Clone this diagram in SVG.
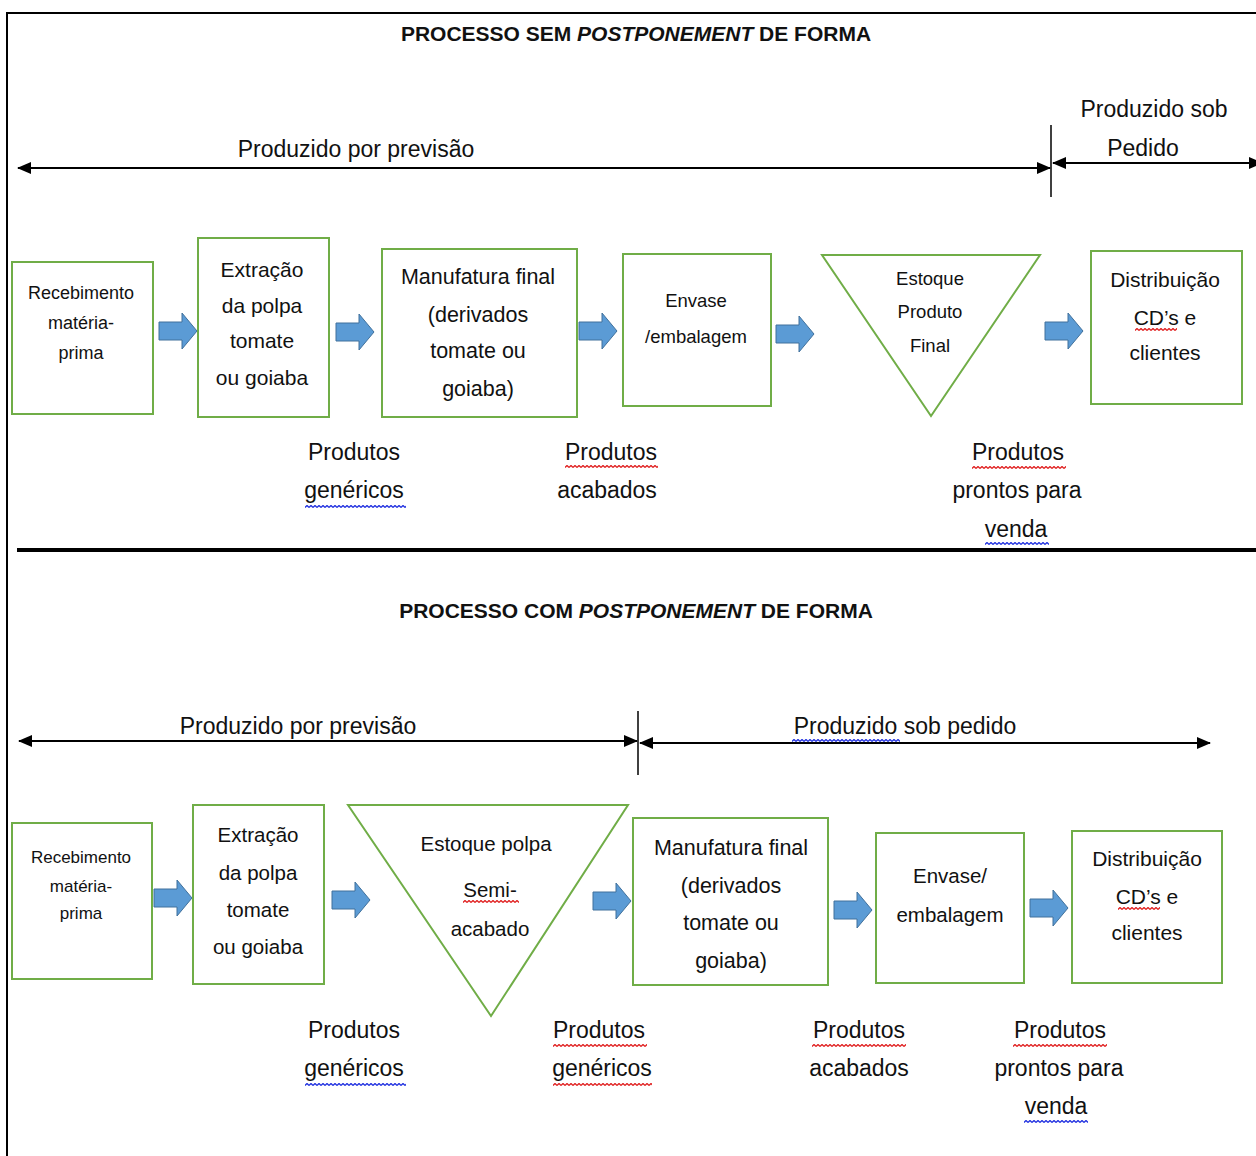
<svg xmlns="http://www.w3.org/2000/svg" width="1256" height="1156" viewBox="0 0 1256 1156">
<style>
text{font-family:"Liberation Sans",Arial,sans-serif;fill:#111;text-anchor:middle}
.title{font-size:21px;font-weight:bold}
.lbl{font-size:23px}
.box{fill:#fff;stroke:#70ad47;stroke-width:2}
.dim{stroke:#000;stroke-width:2;fill:none}
.tick{stroke:#000;stroke-width:1.5}
.frame{stroke:#000;stroke-width:2;fill:none}
</style>
<defs>
<path id="barrow" d="M0,9 H23 V0 L38,18 L23,36 V27 H0 Z" fill="#5b9bd5" stroke="#41719c" stroke-width="1"/>
<marker id="ah" markerUnits="userSpaceOnUse" markerWidth="14" markerHeight="14" refX="13" refY="7" orient="auto-start-reverse">
<path d="M0,1 L14,7 L0,13 Z" fill="#000"/>
</marker>
<pattern id="sqR" patternUnits="userSpaceOnUse" width="4" height="3">
<path d="M0,2.5 L2,0.5 L4,2.5" fill="none" stroke="#e02020" stroke-width="1.3"/>
</pattern>
<pattern id="sqB" patternUnits="userSpaceOnUse" width="4" height="3">
<path d="M0,2.5 L2,0.5 L4,2.5" fill="none" stroke="#2030e0" stroke-width="1.3"/>
</pattern>
</defs>

<!-- frame -->
<path class="frame" d="M7,1156 V13 H1256"/>
<line x1="17" y1="550" x2="1256" y2="550" stroke="#000" stroke-width="4"/>

<!-- titles -->
<text class="title" x="636" y="41">PROCESSO SEM <tspan font-style="italic">POSTPONEMENT</tspan> DE FORMA</text>
<text class="title" x="636" y="618">PROCESSO COM <tspan font-style="italic">POSTPONEMENT</tspan> DE FORMA</text>

<!-- connectors -->
<g id="connectors">
<line class="dim" x1="18" y1="168" x2="1050" y2="168" marker-start="url(#ah)" marker-end="url(#ah)"/>
<line class="tick" x1="1051" y1="125" x2="1051" y2="197"/>
<line class="dim" x1="1053" y1="163" x2="1262" y2="163" marker-start="url(#ah)" marker-end="url(#ah)"/>
<line class="dim" x1="19" y1="741" x2="637" y2="741" marker-start="url(#ah)" marker-end="url(#ah)"/>
<line class="tick" x1="638" y1="711" x2="638" y2="775"/>
<line class="dim" x1="640" y1="743" x2="1210" y2="743" marker-start="url(#ah)" marker-end="url(#ah)"/>
<use href="#barrow" transform="translate(159,313)"/>
<use href="#barrow" transform="translate(336,314)"/>
<use href="#barrow" transform="translate(579,313)"/>
<use href="#barrow" transform="translate(776,316)"/>
<use href="#barrow" transform="translate(1045,313)"/>
<use href="#barrow" transform="translate(154,880)"/>
<use href="#barrow" transform="translate(332,882)"/>
<use href="#barrow" transform="translate(593,883)"/>
<use href="#barrow" transform="translate(834,892)"/>
<use href="#barrow" transform="translate(1030,890)"/>
</g>

<!-- range labels -->
<g id="ranges">
<text class="lbl" x="356" y="157">Produzido por previsão</text>
<text class="lbl" x="1154" y="117">Produzido sob</text>
<text class="lbl" x="1143" y="156">Pedido</text>
<text class="lbl" x="298" y="734">Produzido por previsão</text>
<text class="lbl" x="905" y="734">Produzido sob pedido</text>
<rect x="0" y="0" width="108" height="3" fill="url(#sqB)" transform="translate(792,739)"/>
</g>

<!-- top row nodes -->
<g id="n1">
<rect class="box" x="12" y="262" width="141" height="152"/>
<text x="81" y="299" font-size="18">Recebimento</text>
<text x="81" y="329" font-size="18">matéria-</text>
<text x="81" y="359" font-size="18">prima</text>
</g>
<g id="n2">
<rect class="box" x="198" y="238" width="131" height="179"/>
<text x="262" y="277" font-size="21">Extração</text>
<text x="262" y="313" font-size="21">da polpa</text>
<text x="262" y="348" font-size="21">tomate</text>
<text x="262" y="385" font-size="21">ou goiaba</text>
</g>
<g id="n3">
<rect class="box" x="382" y="249" width="195" height="168"/>
<text x="478" y="284" font-size="21.5">Manufatura final</text>
<text x="478" y="322" font-size="21.5">(derivados</text>
<text x="478" y="358" font-size="21.5">tomate ou</text>
<text x="478" y="396" font-size="21.5">goiaba)</text>
</g>
<g id="n4">
<rect class="box" x="623" y="254" width="148" height="152"/>
<text x="696" y="307" font-size="18.5">Envase</text>
<text x="696" y="343" font-size="18.5">/embalagem</text>
</g>
<g id="n5">
<polygon class="box" points="822,255 1040,255 931,416"/>
<text x="930" y="285" font-size="18.5">Estoque</text>
<text x="930" y="318" font-size="18.5">Produto</text>
<text x="930" y="352" font-size="18.5">Final</text>
</g>
<g id="n6">
<rect class="box" x="1091" y="251" width="151" height="153"/>
<text x="1165" y="287" font-size="21">Distribuição</text>
<text x="1165" y="325" font-size="21">CD’s e</text>
<text x="1165" y="360" font-size="21">clientes</text>
<rect x="0" y="0" width="42" height="3" fill="url(#sqR)" transform="translate(1135,328)"/>
</g>

<!-- top row labels -->
<g id="labels-top">
<text class="lbl" x="354" y="460">Produtos</text>
<text class="lbl" x="354" y="498">genéricos</text>
<rect x="0" y="0" width="101" height="3" fill="url(#sqB)" transform="translate(305,505)"/>
<text class="lbl" x="611" y="460">Produtos</text>
<text class="lbl" x="607" y="498">acabados</text>
<rect x="0" y="0" width="93" height="3" fill="url(#sqR)" transform="translate(565,465)"/>
<text class="lbl" x="1018" y="460">Produtos</text>
<text class="lbl" x="1017" y="498">prontos para</text>
<text class="lbl" x="1016" y="537">venda</text>
<rect x="0" y="0" width="94" height="3" fill="url(#sqR)" transform="translate(972,466)"/>
<rect x="0" y="0" width="64" height="3" fill="url(#sqB)" transform="translate(985,542)"/>
</g>

<!-- bottom row nodes -->
<g id="m1">
<rect class="box" x="12" y="823" width="140" height="156"/>
<text x="81" y="863" font-size="17">Recebimento</text>
<text x="81" y="892" font-size="17">matéria-</text>
<text x="81" y="919" font-size="17">prima</text>
</g>
<g id="m2">
<rect class="box" x="193" y="805" width="131" height="179"/>
<text x="258" y="842" font-size="20.5">Extração</text>
<text x="258" y="880" font-size="20.5">da polpa</text>
<text x="258" y="917" font-size="20.5">tomate</text>
<text x="258" y="954" font-size="20.5">ou goiaba</text>
</g>
<g id="m3">
<polygon class="box" points="348,805 628,805 491,1016"/>
<text x="486" y="851" font-size="20.5">Estoque polpa</text>
<text x="490" y="897" font-size="20.5">Semi-</text>
<text x="490" y="936" font-size="20.5">acabado</text>
<rect x="0" y="0" width="56" height="3" fill="url(#sqR)" transform="translate(463,900)"/>
</g>
<g id="m4">
<rect class="box" x="633" y="818" width="195" height="167"/>
<text x="731" y="855" font-size="21.5">Manufatura final</text>
<text x="731" y="893" font-size="21.5">(derivados</text>
<text x="731" y="930" font-size="21.5">tomate ou</text>
<text x="731" y="968" font-size="21.5">goiaba)</text>
</g>
<g id="m5">
<rect class="box" x="876" y="833" width="148" height="150"/>
<text x="950" y="883" font-size="20.5">Envase/</text>
<text x="950" y="922" font-size="20.5">embalagem</text>
</g>
<g id="m6">
<rect class="box" x="1072" y="831" width="150" height="152"/>
<text x="1147" y="866" font-size="21">Distribuição</text>
<text x="1147" y="904" font-size="21">CD’s e</text>
<text x="1147" y="940" font-size="21">clientes</text>
<rect x="0" y="0" width="42" height="3" fill="url(#sqR)" transform="translate(1118,907)"/>
</g>

<!-- bottom row labels -->
<g id="labels-bottom">
<text class="lbl" x="354" y="1038">Produtos</text>
<text class="lbl" x="354" y="1076">genéricos</text>
<rect x="0" y="0" width="101" height="3" fill="url(#sqB)" transform="translate(305,1083)"/>
<text class="lbl" x="599" y="1038">Produtos</text>
<text class="lbl" x="602" y="1076">genéricos</text>
<rect x="0" y="0" width="94" height="3" fill="url(#sqR)" transform="translate(553,1044)"/>
<rect x="0" y="0" width="99" height="3" fill="url(#sqR)" transform="translate(553,1083)"/>
<text class="lbl" x="859" y="1038">Produtos</text>
<text class="lbl" x="859" y="1076">acabados</text>
<rect x="0" y="0" width="94" height="3" fill="url(#sqR)" transform="translate(812,1044)"/>
<text class="lbl" x="1060" y="1038">Produtos</text>
<text class="lbl" x="1059" y="1076">prontos para</text>
<text class="lbl" x="1056" y="1114">venda</text>
<rect x="0" y="0" width="94" height="3" fill="url(#sqR)" transform="translate(1013,1044)"/>
<rect x="0" y="0" width="64" height="3" fill="url(#sqB)" transform="translate(1024,1120)"/>
</g>
</svg>
